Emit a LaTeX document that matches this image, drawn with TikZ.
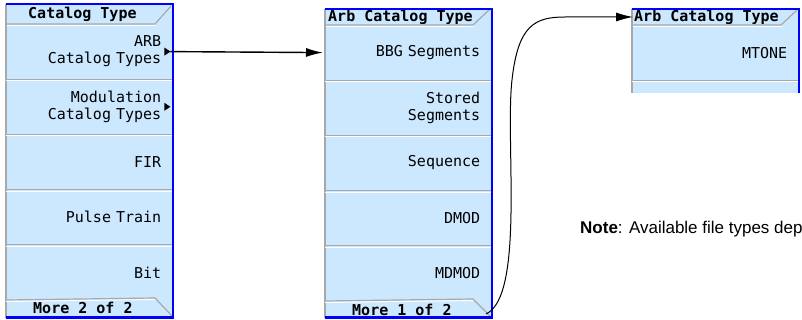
\documentclass[tikz,border=0pt]{standalone}
\usepackage{fontspec}
\setmainfont{Liberation Sans}
\setmonofont{DejaVu Sans Mono}
\usetikzlibrary{positioning,arrows.meta}
\definecolor{keyfill}{RGB}{204,232,255}
\definecolor{keyedge}{RGB}{168,168,168}
\definecolor{panelblue}{RGB}{0,0,255}
\tikzset{
	softkey/.style={anchor=north west, minimum width=167pt, minimum height=54.8pt,
		text width=143pt, inner xsep=12pt, inner ysep=0pt, align=right,
		font=\ttfamily\fontsize{15}{17}\selectfont},
	keytitle/.style={anchor=west, inner sep=0pt, font=\ttfamily\bfseries\fontsize{15}{17}\selectfont},
	keysep/.style={keyedge, line width=1.2pt},
	keyhi/.style={white, line width=1pt},
	blueedge/.style={panelblue, line width=2.5pt},
	marker/.style={fill=black},
	link/.style={-{Latex[length=17pt,width=9pt]}},
}
\begin{document}
\begin{tikzpicture}[x=1pt, y=-1pt]
	\useasboundingbox (0,0) rectangle (802,320);
	%\draw [thin, help lines] (0,0) grid (802,320);
	% Catalog Type
	\fill [keyfill] (6,4) rectangle (173,318);
	\draw [keysep] (6,4) -- (6,318);
	\node [keytitle] (t1) at (28,14) {Catalog Type};
	\draw [keysep] (6,24) -- (155,24) -- (171,6);
	\draw [keyhi] (7,25.5) -- (155.5,25.5);
	\node [softkey] (k11) at (6,24) {ARB\\Catalog Types};
	\node [softkey, below=0pt of k11] (k12) {Modulation\\Catalog Types};
	\node [softkey, below=0pt of k12] (k13) {FIR};
	\node [softkey, below=0pt of k13] (k14) {Pulse Train};
	\node [softkey, below=0pt of k14] (k15) {Bit};
	\draw [keysep] (k15.south west) -- (155,298) -- (172,316);
	\draw [keyhi] ([yshift=-1.5pt]k15.south west) -- (155,299.5);
	\node [keytitle] (m1) at (33,308) {More 2 of 2};
	\draw [blueedge] (6,317.5) -- (173,317.5) -- (173,4) -- (6,4);
	\fill [marker] ([xshift=-9pt,yshift=4pt]k11.east) -- ++(6,4) -- ++(-6,4) -- cycle;
	\fill [marker] ([xshift=-9pt,yshift=4pt]k12.east) -- ++(6,4) -- ++(-6,4) -- cycle;
	% Arb Catalog Type, page 1
	\fill [keyfill] (325,9) rectangle (492,318);
	\draw [keysep] (325,9) -- (325,318);
	\node [keytitle] (t2) at (328,17) {Arb Catalog Type};
	\draw [keysep] (325,25) -- (473,25) -- (489,10);
	\draw [keyhi] (326,26.5) -- (473.5,26.5);
	\node [softkey] (k21) at (325,25) {BBG Segments};
	\node [softkey, below=0pt of k21] (k22) {Stored\\Segments};
	\node [softkey, below=0pt of k22] (k23) {Sequence};
	\node [softkey, below=0pt of k23] (k24) {DMOD};
	\node [softkey, below=0pt of k24] (k25) {MDMOD};
	\draw [keysep] (k25.south west) -- (473,299) -- (490,316);
	\draw [keyhi] ([yshift=-1.5pt]k25.south west) -- (473,300.5);
	\node [keytitle] (m2) at (352,310) {More 1 of 2};
	\draw [blueedge] (325,317.5) -- (492,317.5) -- (492,9) -- (325,9);
	\coordinate (tab2) at (486,314);
	% Arb Catalog Type, page 2
	\fill [keyfill] (632,9) rectangle (799,93);
	\draw [keysep] (632,9) -- (632,93);
	\node [keytitle] (t3) at (634,17) {Arb Catalog Type};
	\draw [keysep] (632,25) -- (781,25) -- (797,10);
	\draw [keyhi] (633,26.5) -- (781.5,26.5);
	\node [softkey] (k31) at (632,25) {MTONE};
	\draw [blueedge] (632,9) -- (799,9) -- (799,93);
	% separators
	\foreach \k in {k11,k12,k13,k14,k21,k22,k23,k24,k31} {
		\draw [keysep] (\k.south west) -- ([xshift=-1.2pt]\k.south east);
		\draw [keyhi] ([yshift=-1.5pt]\k.south west) -- ([xshift=-1.2pt,yshift=-1.5pt]\k.south east);
	}
	% links
	\draw [link, line width=1.4pt, shorten >=2pt] ([xshift=-3pt]k11.east) -- (k21.west);
	\draw [link, line width=1pt, shorten >=1pt] (tab2) .. controls (525,296) and (505,140) .. (512,80)
		.. controls (518,25) and (535,17) .. (565,17) -- (t3.west);
	\node [anchor=west, inner sep=0pt, font=\fontsize{17}{19}\selectfont] (note) at (580,229) {\textbf{Note}: Available file types dep};
\end{tikzpicture}
\end{document}
